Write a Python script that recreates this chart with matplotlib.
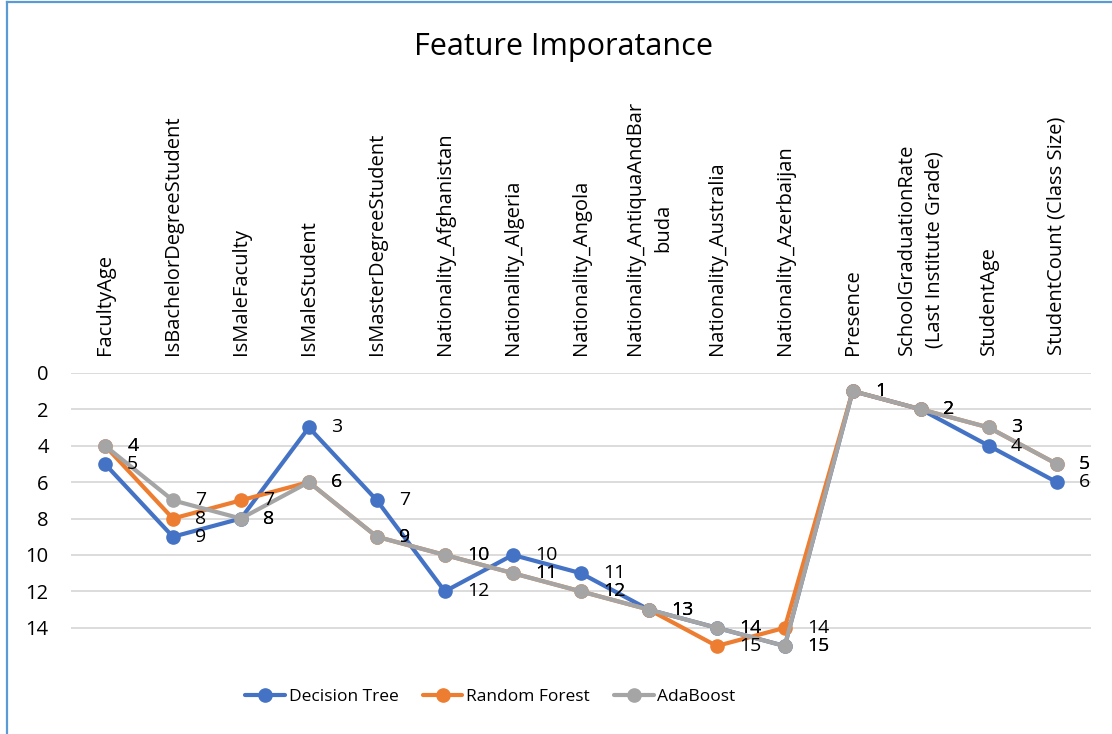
import matplotlib
matplotlib.use("Agg")
import matplotlib.pyplot as plt
from matplotlib.lines import Line2D

plt.rcParams['font.family'] = ['Open Sans', 'DejaVu Sans']

features = ["FacultyAge", "IsBachelorDegreeStudent", "IsMaleFaculty", "IsMaleStudent",
            "IsMasterDegreeStudent", "Nationality_Afghanistan", "Nationality_Algeria",
            "Nationality_Angola", "Nationality_AntiquaAndBar\nbuda", "Nationality_Australia",
            "Nationality_Azerbaijan", "Presence", "SchoolGraduationRate\n(Last Institute Grade)",
            "StudentAge", "StudentCount (Class Size)"]

decision_tree = [5, 9, 8, 3, 7, 12, 10, 11, 13, 14, 15, 1, 2, 4, 6]
random_forest = [4, 8, 7, 6, 9, 10, 11, 12, 13, 15, 14, 1, 2, 3, 5]
adaboost = [4, 7, 8, 6, 9, 10, 11, 12, 13, 14, 15, 1, 2, 3, 5]

series = [("Decision Tree", decision_tree, "#4472C4"),
          ("Random Forest", random_forest, "#ED7D31"),
          ("AdaBoost", adaboost, "#A5A5A5")]

fig = plt.figure(figsize=(11.12, 7.34), dpi=100)
ax = fig.add_axes([0.0638, 0.105, 0.917, 0.387])

x = list(range(len(features)))
for name, vals, col in series:
    ax.plot(x, vals, color=col, lw=3, marker='o', ms=9.5, label=name,
            solid_capstyle='round', solid_joinstyle='round')
    for xi, v in zip(x, vals):
        ax.annotate(str(v), (xi, v), xytext=(16, 0), textcoords='offset points',
                    ha='left', va='center', fontsize=14, color='black')

ax.set_xlim(-0.5, len(features) - 0.5)
ax.set_ylim(15.6, 0)
ax.set_yticks(range(0, 15, 2))
ax.grid(axis='y', color='#D9D9D9', lw=1.3)
ax.set_axisbelow(True)
for s in ax.spines.values():
    s.set_visible(False)

ax.set_xticks(x)
ax.set_xticklabels(features, rotation=90, fontsize=14.5, ha='center', va='bottom',
                   multialignment='center', linespacing=1.55)
ax.tick_params(axis='x', top=True, bottom=False, labeltop=True, labelbottom=False,
               length=0, pad=13)
ax.tick_params(axis='y', length=0, pad=16, labelsize=14.5)

fig.text(0.507, 0.936, "Feature Imporatance", ha='center', va='center', fontsize=22)

fig.legend(loc='center', bbox_to_anchor=(0.441, 0.05), ncol=3, frameon=False,
           fontsize=12.5, handlelength=2.3, handletextpad=0.2, columnspacing=1.4)

# chart frame edges
fig.add_artist(Line2D([0.0063, 0.0063], [0, 0.997], color='#5B9BD5', lw=1.6,
                      transform=fig.transFigure))
fig.add_artist(Line2D([0.0063, 1], [0.997, 0.997], color='#5B9BD5', lw=1.6,
                      transform=fig.transFigure))

fig.savefig("out.png", dpi=100)
